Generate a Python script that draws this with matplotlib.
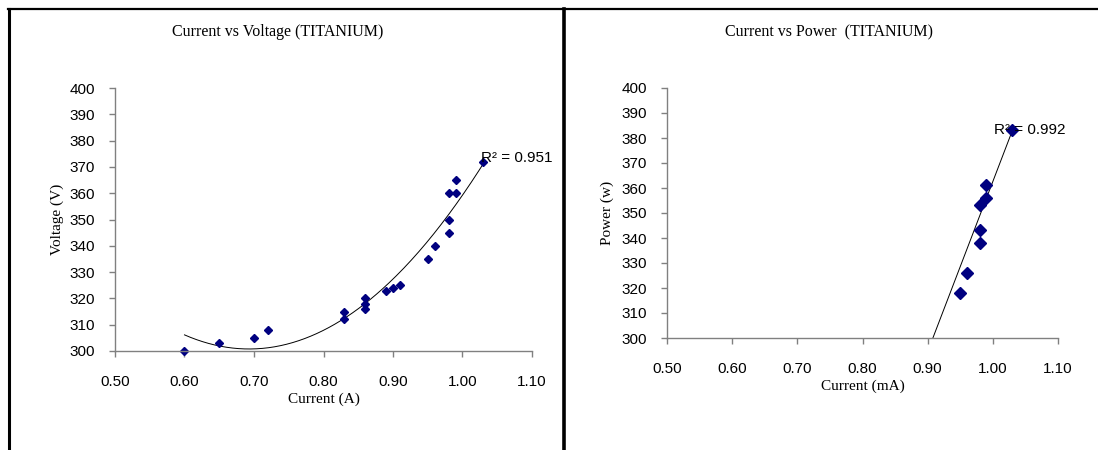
import numpy as np
import matplotlib
matplotlib.use("Agg")
import matplotlib.pyplot as plt
from matplotlib.lines import Line2D

# current vs voltage data (titanium)
current_a = [0.60, 0.65, 0.70, 0.72, 0.83, 0.83, 0.86, 0.86, 0.86, 0.89,
             0.90, 0.91, 0.95, 0.96, 0.98, 0.98, 0.98, 0.99, 0.99, 1.03]
voltage_v = [300, 303, 305, 308, 312, 315, 316, 318, 320, 323,
             324, 325, 335, 340, 345, 350, 360, 360, 365, 372]

# current vs power data (titanium)
current_ma = [0.95, 0.96, 0.98, 0.98, 0.98, 0.99, 0.99, 1.03]
power_w = [318, 326, 338, 343, 353, 356, 361, 383]
# linear trendline as drawn in the original sheet
power_trend_x = [0.908, 1.03]
power_trend_y = [300, 383]

xticks = [0.50, 0.60, 0.70, 0.80, 0.90, 1.00, 1.10]
yticks = list(range(300, 401, 10))

W, H = 1098, 450
fig = plt.figure(figsize=(W / 100, H / 100), dpi=100)

serif = "Liberation Serif"
sans = "Liberation Sans"
navy = "#000080"
grey = "#808080"


def setup(ax, xlabel, ylabel, ylab_x):
    ax.set_xlim(0.5, 1.1)
    ax.set_ylim(300, 400)
    ax.set_xticks(xticks)
    ax.set_xticklabels(["%.2f" % t for t in xticks], family=sans, fontsize=11)
    ax.set_yticks(yticks)
    ax.set_yticklabels([str(t) for t in yticks], family=sans, fontsize=11)
    for s in ["top", "right"]:
        ax.spines[s].set_visible(False)
    for s in ["left", "bottom"]:
        ax.spines[s].set_color(grey)
        ax.spines[s].set_linewidth(1.0)
    ax.tick_params(direction="out", length=4, color=grey, width=1.0)
    ax.tick_params(axis="x", pad=13.5)
    ax.tick_params(axis="y", pad=10.5)
    ax.set_xlabel(xlabel, family=serif, fontsize=11, labelpad=2)
    ax.set_ylabel(ylabel, family=serif, fontsize=11)
    ax.yaxis.set_label_coords(ylab_x, 0.5)


# left panel
ax1 = fig.add_axes([115 / W, 1 - 351 / H, 417 / W, 263 / H])
setup(ax1, "Current (A)", "Voltage (V)", -0.122)
fig.text(278 / W, 1 - 32 / H, "Current vs Voltage (TITANIUM)", family=serif,
         fontsize=11.5, ha="center", va="center")
c2 = np.polyfit(current_a, voltage_v, 2)
xx = np.linspace(min(current_a), max(current_a), 200)
ax1.plot(xx, np.polyval(c2, xx), color="black", lw=0.7)
ax1.plot(current_a, voltage_v, "D", color=navy, ms=4.5, clip_on=False)
ax1.annotate("R² = 0.951", (current_a[-1], voltage_v[-1]), xytext=(-2, 0),
             textcoords="offset pixels", family=sans, fontsize=11, va="baseline")

# right panel
ax2 = fig.add_axes([667 / W, 1 - 338 / H, 391 / W, 250 / H])
setup(ax2, "Current (mA)", "Power (w)", -0.136)
fig.text(829 / W, 1 - 32 / H, "Current vs Power  (TITANIUM)", family=serif,
         fontsize=11.5, ha="center", va="center")
ax2.plot(power_trend_x, power_trend_y, color="black", lw=0.7)
ax2.plot(current_ma, power_w, "D", color=navy, ms=6, clip_on=False)
ax2.annotate("R² = 0.992", (current_ma[-1], power_w[-1]), xytext=(-18, -3),
             textcoords="offset pixels", family=sans, fontsize=11, va="baseline")

# panel borders
fig.add_artist(Line2D([8 / W, 1], [1 - 9 / H] * 2, color="black", lw=1.6))
fig.add_artist(Line2D([9 / W] * 2, [0, 1 - 9 / H], color="black", lw=2.2))
fig.add_artist(Line2D([564 / W] * 2, [0, 1 - 9 / H], color="black", lw=2.6))

fig.savefig("out.png", dpi=100)
